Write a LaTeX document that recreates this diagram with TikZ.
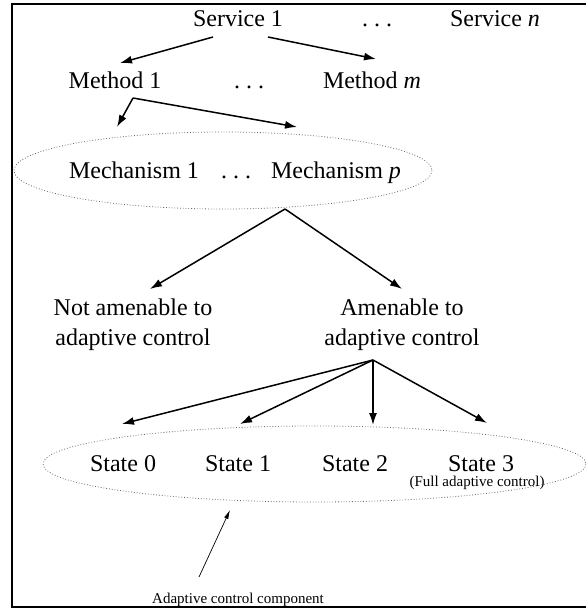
\documentclass[tikz,border=0pt]{standalone}
\usepackage{fontspec}
\setmainfont{Liberation Serif}
\usetikzlibrary{arrows.meta}

\begin{document}
\begin{tikzpicture}[x=1pt, y=-1pt,
  lbl/.style={font=\fontsize{24}{30}\selectfont, anchor=base, inner sep=0pt, align=center},
  note/.style={font=\fontsize{15}{17}\selectfont, anchor=base, inner sep=0pt},
  arr/.style={-{Latex[length=12pt, width=8pt]}, line width=1.5pt},
  thinarr/.style={-{Latex[length=9pt, width=4.5pt]}, line width=0.7pt},
  group/.style={dotted, gray!80!black, line width=0.8pt},
]
  \useasboundingbox (0,0) rectangle (586,608);

  % Frame (right side falls off the page)
  \draw[line width=2pt] (600,4) -- (12,4) -- (12,606.5) -- (600,606.5);

  % Services
  \node[lbl] (svc1) at (238,26) {Service 1};
  \node[lbl] (svcdots) at (377,26) {.~.~.};
  \node[lbl] (svcn) at (495,26) {Service \textit{n}};

  % Methods
  \node[lbl] (meth1) at (115,88) {Method 1};
  \node[lbl] (methdots) at (249,88) {.~.~.};
  \node[lbl] (methm) at (372,88) {Method \textit{m}};

  % Mechanisms
  \draw[group] (223,170.5) ellipse (209 and 38.5);
  \node[lbl] (mech1) at (134,178) {Mechanism 1};
  \node[lbl] (mechdots) at (236,178) {.~.~.};
  \node[lbl] (mechp) at (336,178) {Mechanism \textit{p}};

  % Amenable or not (base = last line)
  \node[lbl] (notamen) at (133,345) {Not amenable to\\adaptive control};
  \node[lbl] (amen) at (402,345) {Amenable to\\adaptive control};

  % States
  \draw[group] (314.5,464) ellipse (271.5 and 38);
  \node[lbl] (st0) at (123,471) {State 0};
  \node[lbl] (st1) at (238,471) {State 1};
  \node[lbl] (st2) at (355,471) {State 2};
  \node[lbl] (st3) at (481,471) {State 3};
  \node[note] (full) at (477,486) {(Full adaptive control)};
  \node[note] (comp) at (238,603) {Adaptive control component};

  % Fork points and arrow tips
  \coordinate (svcl) at (213,37);
  \coordinate (svcr) at (268,37);
  \coordinate (methl) at (120,63);
  \coordinate (methr) at (376,59);
  \coordinate (methfork) at (133,98);
  \coordinate (mechl) at (117,127);
  \coordinate (mechr) at (297,127);
  \coordinate (mechfork) at (285,209);
  \coordinate (notamentip) at (150,289);
  \coordinate (amentip) at (402,289);
  \coordinate (amenfork) at (373,360);
  \coordinate (st0tip) at (122,424);
  \coordinate (st1tip) at (240,424);
  \coordinate (st2tip) at (373,425);
  \coordinate (st3tip) at (487,423);
  \coordinate (comptail) at (199,577);
  \coordinate (comptip) at (230,510);

  % Arrows
  \draw[arr] (svcl) -- (methl);
  \draw[arr] (svcr) -- (methr);
  \draw[arr] (methfork) -- (mechl);
  \draw[arr] (methfork) -- (mechr);
  \draw[arr] (mechfork) -- (notamentip);
  \draw[arr] (mechfork) -- (amentip);
  \foreach \tip in {st0tip, st1tip, st2tip, st3tip} {
    \draw[arr] (amenfork) -- (\tip);
  }
  \draw[thinarr] (comptail) -- (comptip);

\end{tikzpicture}
\end{document}
